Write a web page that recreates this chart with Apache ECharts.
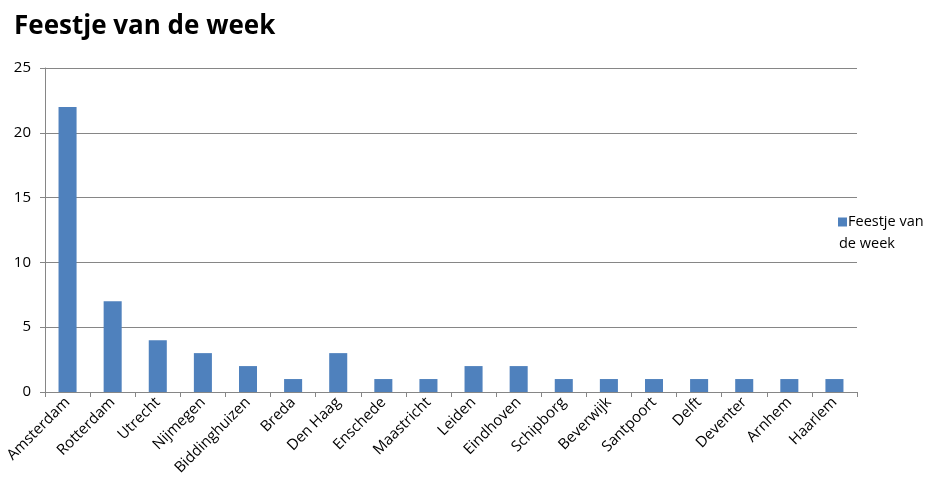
<!DOCTYPE html>
<html>
<head>
<meta charset="utf-8">
<script src="https://cdn.jsdelivr.net/npm/echarts@6/dist/echarts.min.js"></script>
<style>html,body{margin:0;padding:0;background:#fff;}#c{width:941px;height:493px;}</style>
</head>
<body>
<div id="c"></div>
<script>
const categories = ['Amsterdam','Rotterdam','Utrecht','Nijmegen','Biddinghuizen','Breda','Den Haag','Enschede','Maastricht','Leiden','Eindhoven','Schipborg','Beverwijk','Santpoort','Delft','Deventer','Arnhem','Haarlem'];
const values = [22,7,4,3,2,1,3,1,1,2,2,1,1,1,1,1,1,1];
const seriesName = 'Feestje van de week';
const titleText = 'Feestje van de week';

const chart = echarts.init(document.getElementById('c'), null, {renderer:'canvas'});
const font = '"Open Sans", "Noto Sans", sans-serif';
chart.setOption({
  animation: false,
  title: {text: titleText, left: 9, top: 9, textStyle:{fontFamily: font, fontSize: 26, fontWeight: 'bold', color:'#000'}},
  legend: {
    data: [seriesName], orient:'vertical', left: 828, top: 206,
    itemWidth: 0, itemHeight: 9, itemGap: 0, icon: 'none',
    formatter: () => '{sq|}{t|Feestje van}\n{t|de week}',
    textStyle: {
      fontFamily: font, fontSize: 14.5, color:'#000', lineHeight: 22,
      rich: {
        sq: {width: 9, height: 9, backgroundColor: '#4F81BD', verticalAlign: 'middle'},
        t: {fontFamily: font, fontSize: 14.5, color:'#000', lineHeight: 22, padding:[0,0,0,1]}
      }
    }
  },
  grid: {left: 45, top: 68, right: 84, bottom: 101, containLabel: false},
  xAxis: {
    type:'category', data: categories, boundaryGap: true,
    axisLine:{lineStyle:{color:'#868686'}},
    axisTick:{show:true, length:5, lineStyle:{color:'#868686'}},
    axisLabel:{rotate:45, interval:0, fontFamily: font, fontSize: 15, color:'#000', margin: 8}
  },
  yAxis: {
    type:'value', min:0, max:25, interval:5,
    axisLine:{show:true, lineStyle:{color:'#868686'}},
    axisTick:{show:true, length:5, lineStyle:{color:'#868686'}},
    splitLine:{lineStyle:{color:'#868686'}},
    axisLabel:{fontFamily: font, fontSize: 15, color:'#000', margin: 14}
  },
  series: [{name: seriesName, type:'bar', data: values, barWidth: '40%', itemStyle:{color:'#4F81BD'}}]
});
</script>
</body>
</html>
